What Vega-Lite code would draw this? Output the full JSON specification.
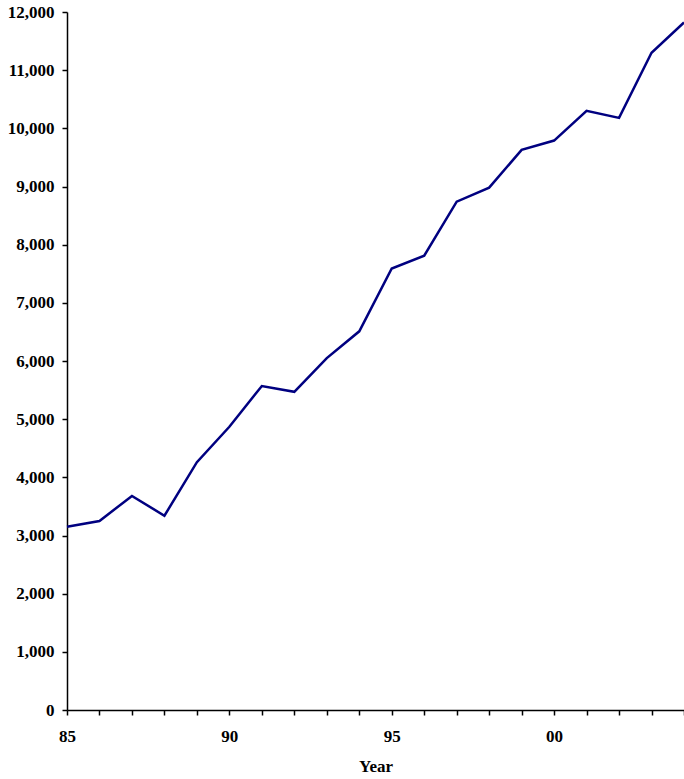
{
  "$schema": "https://vega.github.io/schema/vega-lite/v6.json",
  "width": 617,
  "height": 698,
  "autosize": "none",
  "padding": {"left": 67, "top": 12, "right": 0, "bottom": 69},
  "background": "white",
  "config": {
    "view": {"stroke": null},
    "axis": {
      "labelFont": "Liberation Serif",
      "titleFont": "Liberation Serif",
      "labelFontSize": 17,
      "titleFontSize": 17,
      "labelFontWeight": "bold",
      "titleFontWeight": "bold",
      "labelColor": "black",
      "titleColor": "black",
      "domainColor": "black",
      "tickColor": "black",
      "domainWidth": 1.5,
      "tickWidth": 1.5,
      "tickSize": 5,
      "grid": false
    }
  },
  "data": {
    "values": [
      {"year": 1985, "value": 3150},
      {"year": 1986, "value": 3250},
      {"year": 1987, "value": 3680},
      {"year": 1988, "value": 3340},
      {"year": 1989, "value": 4260},
      {"year": 1990, "value": 4870},
      {"year": 1991, "value": 5570},
      {"year": 1992, "value": 5470},
      {"year": 1993, "value": 6050},
      {"year": 1994, "value": 6510},
      {"year": 1995, "value": 7590},
      {"year": 1996, "value": 7810},
      {"year": 1997, "value": 8740},
      {"year": 1998, "value": 8980},
      {"year": 1999, "value": 9630},
      {"year": 2000, "value": 9790},
      {"year": 2001, "value": 10300},
      {"year": 2002, "value": 10180},
      {"year": 2003, "value": 11300},
      {"year": 2004, "value": 11820}
    ]
  },
  "mark": {"type": "line", "color": "#000080", "strokeWidth": 2.5, "clip": false},
  "encoding": {
    "x": {
      "field": "year",
      "type": "quantitative",
      "scale": {"domain": [1985, 2004], "nice": false, "zero": false},
      "axis": {
        "title": "Year",
        "values": [1985,1986,1987,1988,1989,1990,1991,1992,1993,1994,1995,1996,1997,1998,1999,2000,2001,2002,2003,2004],
        "labelExpr": "datum.value % 5 == 0 ? slice(toString(datum.value), 2) : ''",
        "labelOverlap": false,
        "labelFlush": false,
        "labelPadding": 13,
        "titlePadding": 14
      }
    },
    "y": {
      "field": "value",
      "type": "quantitative",
      "scale": {"domain": [0, 12000], "nice": false},
      "axis": {
        "title": null,
        "values": [0,1000,2000,3000,4000,5000,6000,7000,8000,9000,10000,11000,12000],
        "format": ",.0f",
        "labelPadding": 8
      }
    }
  }
}
